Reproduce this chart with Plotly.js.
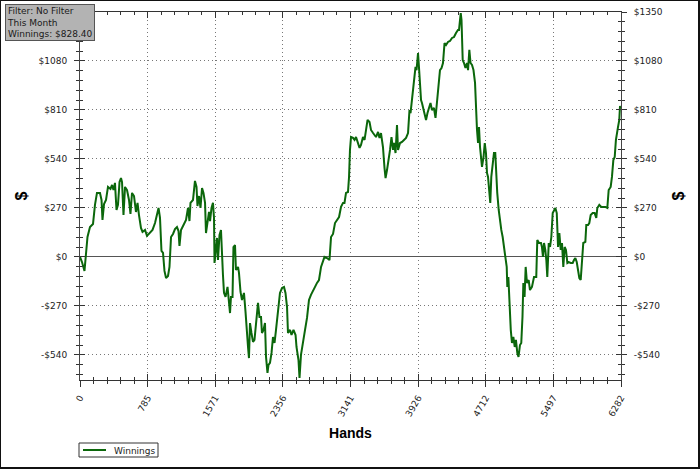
<!DOCTYPE html>
<html>
<head>
<meta charset="utf-8">
<script src="https://cdn.plot.ly/plotly-3.0.1.min.js"></script>
<style>
  html, body { margin: 0; padding: 0; background: #fff; }
  #wrap { position: relative; width: 700px; height: 469px; }
  #chart { width: 700px; height: 469px; }
  #frame { position: absolute; left: 0; top: 0; width: 700px; height: 469px; box-sizing: border-box;
           border-left: 1px solid #111; border-top: 1px solid #111; border-right: 2px solid #111; border-bottom: 2px solid #111;
           pointer-events: none; }
</style>
</head>
<body>
<div id="wrap"><div id="chart"></div><div id="frame"></div></div>
<script>
const hands = [0,23,52,70,87,116,151,174,197,232,250,261,279,302,325,354,372,389,406,424,441,459,476,488,505,523,546,569,586,604,627,650,668,685,708,726,755,778,813,842,871,894,912,929,946,964,981,999,1022,1039,1057,1080,1103,1126,1144,1155,1173,1202,1231,1254,1271,1283,1312,1335,1353,1364,1382,1399,1417,1434,1452,1463,1481,1498,1510,1527,1544,1556,1562,1579,1591,1602,1620,1637,1649,1660,1672,1690,1713,1730,1742,1753,1771,1782,1800,1811,1835,1846,1864,1881,1904,1922,1933,1951,1962,1974,1991,2009,2026,2044,2067,2084,2102,2113,2131,2148,2160,2177,2189,2206,2224,2241,2259,2276,2299,2322,2346,2369,2386,2404,2415,2439,2456,2479,2503,2514,2537,2549,2566,2590,2613,2636,2659,2682,2706,2729,2752,2775,2799,2822,2839,2868,2897,2915,2938,2961,2984,3008,3031,3054,3071,3089,3112,3124,3135,3147,3170,3188,3205,3228,3246,3263,3286,3304,3321,3339,3362,3379,3403,3420,3437,3461,3478,3495,3518,3536,3548,3565,3582,3600,3617,3635,3646,3664,3681,3693,3716,3739,3762,3786,3809,3826,3838,3855,3867,3878,3896,3908,3925,3936,3948,3960,3971,3989,4006,4018,4035,4053,4070,4087,4110,4128,4145,4163,4180,4198,4215,4233,4250,4273,4296,4320,4343,4366,4389,4401,4413,4421,4430,4436,4444,4459,4476,4494,4506,4521,4535,4552,4569,4587,4598,4610,4622,4633,4645,4656,4668,4686,4700,4714,4726,4738,4753,4764,4776,4792,4807,4822,4834,4845,4862,4877,4892,4908,4923,4939,4955,4962,4974,4990,5002,5016,5032,5048,5062,5078,5092,5109,5124,5138,5148,5162,5175,5190,5210,5225,5248,5272,5298,5310,5330,5353,5364,5376,5388,5403,5415,5426,5443,5458,5473,5489,5504,5520,5536,5543,5551,5566,5582,5597,5612,5628,5643,5659,5675,5698,5721,5736,5752,5768,5783,5798,5814,5829,5844,5868,5879,5899,5914,5930,5953,5976,5995,6007,6030,6053,6077,6100,6123,6139,6162,6177,6193,6209,6223,6235,6247,6262,6270,6282];

const winnings = [0,-28,-77,22,110,165,182,287,353,353,314,204,292,314,386,375,397,369,408,259,287,413,435,413,231,386,369,314,237,353,336,248,298,231,160,138,149,116,132,149,187,226,270,215,33,22,-77,-116,-105,-55,110,127,154,165,143,61,149,176,204,270,198,298,314,419,386,281,336,270,380,353,298,132,182,248,198,270,298,215,-33,55,105,-17,121,149,-17,-99,-198,-220,-165,-276,-309,-220,-220,55,66,-72,-55,-88,-193,-237,-198,-303,-402,-496,-557,-364,-419,-468,-457,-347,-253,-331,-331,-419,-402,-364,-551,-639,-595,-584,-529,-441,-474,-402,-309,-198,-171,-165,-198,-276,-419,-402,-430,-402,-430,-496,-568,-667,-540,-457,-402,-336,-237,-209,-182,-165,-143,-127,-55,-28,0,-6,-17,110,127,187,204,220,276,298,298,353,358,441,590,661,656,645,661,628,601,617,661,645,700,755,744,700,683,672,661,689,656,683,606,490,435,479,551,590,661,590,628,573,727,590,628,634,645,656,683,810,793,865,920,992,1047,1030,1124,1047,937,865,849,810,771,755,793,827,849,810,821,766,849,937,1030,1041,1069,1179,1168,1185,1190,1207,1212,1234,1251,1251,1306,1344,1306,1212,1085,1069,1041,1069,1030,1141,1069,1058,1030,959,810,700,628,716,606,534,496,551,628,573,463,441,369,298,441,518,573,573,424,353,259,187,149,110,39,0,-55,-165,-110,-292,-402,-474,-441,-496,-457,-529,-551,-485,-474,-331,-143,-220,-55,-143,-127,-182,-165,-110,-110,94,77,77,55,0,77,39,-17,-110,77,55,110,242,259,270,242,149,55,132,39,77,-55,55,39,-33,-28,-33,-33,-17,-6,-28,-88,-116,-127,-44,77,83,176,176,187,231,242,242,215,270,287,276,276,276,270,369,386,441,534,551,645,700,716,755,827,828.4];

const yTickVals = [-540,-270,0,270,540,810,1080,1350];
const yTickTextRight = ["-$540","-$270","$0","$270","$540","$810","$1080","$1350"];
const yTickTextLeft = ["-$540","-$270","$0","$270","$540","$810","$1080",""];
const xTickStep = 785.25;      // 6282 / 8
const infoLines = ["Filter: No Filter","This Month","Winnings: $828.40"];
const seriesName = "Winnings";

const X_RANGE = [0, 6282];
const Y_RANGE = [-678, 1350];
const LINE_COLOR = "#0b670b";
const tickFont = {family: "DejaVu Sans, sans-serif", size: 9, color: "#222"};
const titleFont = {family: "Liberation Sans, Arial, sans-serif", size: 14, color: "#000", weight: "bold"};
const dollarFont = {family: "Liberation Sans, Arial, sans-serif", size: 16, color: "#000", weight: "bold"};
const DOT = "1px,3px";

const traces = [
  {x: hands, y: winnings, type: "scatter", mode: "lines", name: seriesName,
   line: {color: LINE_COLOR, width: 2}, xaxis: "x", yaxis: "y", showlegend: false},
  {x: [0], y: [0], type: "scatter", mode: "markers", marker: {opacity: 0}, showlegend: false,
   hoverinfo: "skip", xaxis: "x2", yaxis: "y3"},
  {x: [0], y: [0], type: "scatter", mode: "markers", marker: {opacity: 0}, showlegend: false,
   hoverinfo: "skip", xaxis: "x", yaxis: "y2"}
];

const minorX = (dir) => ({ticks: dir, ticklen: 3, tick0: 0, dtick: xTickStep / 5, tickcolor: "#333", tickwidth: 1, showgrid: false});
const minorY = (dir) => ({ticks: dir, ticklen: 3, tickmode: "linear", tick0: 0, dtick: 54, tickcolor: "#333", tickwidth: 1, showgrid: false});

// plot area in pixels: left 80, right 621, top 12, bottom 380
const px2x = (px) => (px - 80) / 541;
const py2y = (py) => (380 - py) / 368;

const layout = {
  width: 700, height: 469,
  margin: {l: 80, r: 79, t: 12, b: 89, pad: 0},
  paper_bgcolor: "#fff", plot_bgcolor: "#fff",
  showlegend: false,
  xaxis: {
    range: X_RANGE, anchor: "y", tickmode: "linear", tick0: 0, dtick: xTickStep, tickformat: ".0f",
    tickangle: -60, ticks: "outside", ticklen: 6, tickcolor: "#333", tickwidth: 1,
    minor: minorX("outside"), tickfont: tickFont, ticklabelstandoff: 2,
    showgrid: true, gridcolor: "#777", griddash: DOT, gridwidth: 1,
    showline: true, linecolor: "#555", linewidth: 1, zeroline: false,
    title: {text: "Hands", font: titleFont, standoff: 10}, fixedrange: true
  },
  xaxis2: {
    range: X_RANGE, overlaying: "x", side: "bottom", anchor: "y", tickmode: "linear", tick0: 0, dtick: xTickStep,
    ticks: "inside", ticklen: 6, tickcolor: "#333", tickwidth: 1, minor: minorX("inside"),
    showticklabels: false, showgrid: false, zeroline: false,
    showline: true, linecolor: "#333", linewidth: 1, mirror: "ticks", fixedrange: true
  },
  yaxis: {
    range: Y_RANGE, anchor: "x", side: "left", tickmode: "array", tickvals: yTickVals, ticktext: yTickTextLeft,
    ticks: "outside", ticklen: 5, tickcolor: "#333", tickwidth: 1, minor: minorY("outside"),
    tickfont: tickFont, ticklabelstandoff: 5,
    showgrid: true, gridcolor: "#777", griddash: DOT, gridwidth: 1,
    zeroline: true, zerolinecolor: "#555", zerolinewidth: 1,
    showline: true, linecolor: "#444", linewidth: 1,
    title: {text: "$", font: dollarFont, standoff: 6}, fixedrange: true
  },
  yaxis2: {
    range: Y_RANGE, overlaying: "y", side: "right", anchor: "x", tickmode: "array", tickvals: yTickVals, ticktext: yTickTextRight,
    ticks: "outside", ticklen: 5, tickcolor: "#333", tickwidth: 1, minor: minorY("outside"),
    tickfont: tickFont, ticklabelstandoff: 5,
    showgrid: false, zeroline: false, showline: true, linecolor: "#444", linewidth: 1,
    title: {text: "$", font: dollarFont, standoff: 11}, fixedrange: true
  },
  yaxis3: {
    range: Y_RANGE, overlaying: "y", side: "left", anchor: "x", tickmode: "array", tickvals: yTickVals,
    ticks: "inside", ticklen: 5, tickcolor: "#333", tickwidth: 1, minor: minorY("inside"),
    showticklabels: false, showgrid: false, zeroline: false,
    showline: true, linecolor: "#444", linewidth: 1, mirror: "ticks", fixedrange: true
  },
  shapes: [
    {type: "rect", xref: "paper", yref: "paper", x0: px2x(79), x1: px2x(158), y0: py2y(457), y1: py2y(443),
     line: {color: "#333", width: 1}, fillcolor: "#fff"},
    {type: "line", xref: "paper", yref: "paper", x0: px2x(83), x1: px2x(106), y0: py2y(450), y1: py2y(450),
     line: {color: LINE_COLOR, width: 2}}
  ],
  annotations: [
    {xref: "paper", yref: "paper", x: px2x(5), y: py2y(4), xanchor: "left", yanchor: "top",
     text: infoLines.join("<br>"), align: "left", showarrow: false,
     bgcolor: "#b3b3b3", bordercolor: "#555", borderwidth: 1, borderpad: 1,
     font: {family: "DejaVu Sans, sans-serif", size: 9, color: "#1a1a1a"}},
    {xref: "paper", yref: "paper", x: px2x(112), y: py2y(450.5), xanchor: "left", yanchor: "middle",
     text: seriesName, showarrow: false,
     font: {family: "DejaVu Sans, sans-serif", size: 9, color: "#222"}}
  ]
};

Plotly.newPlot("chart", traces, layout, {staticPlot: true, displayModeBar: false});
</script>
</body>
</html>
